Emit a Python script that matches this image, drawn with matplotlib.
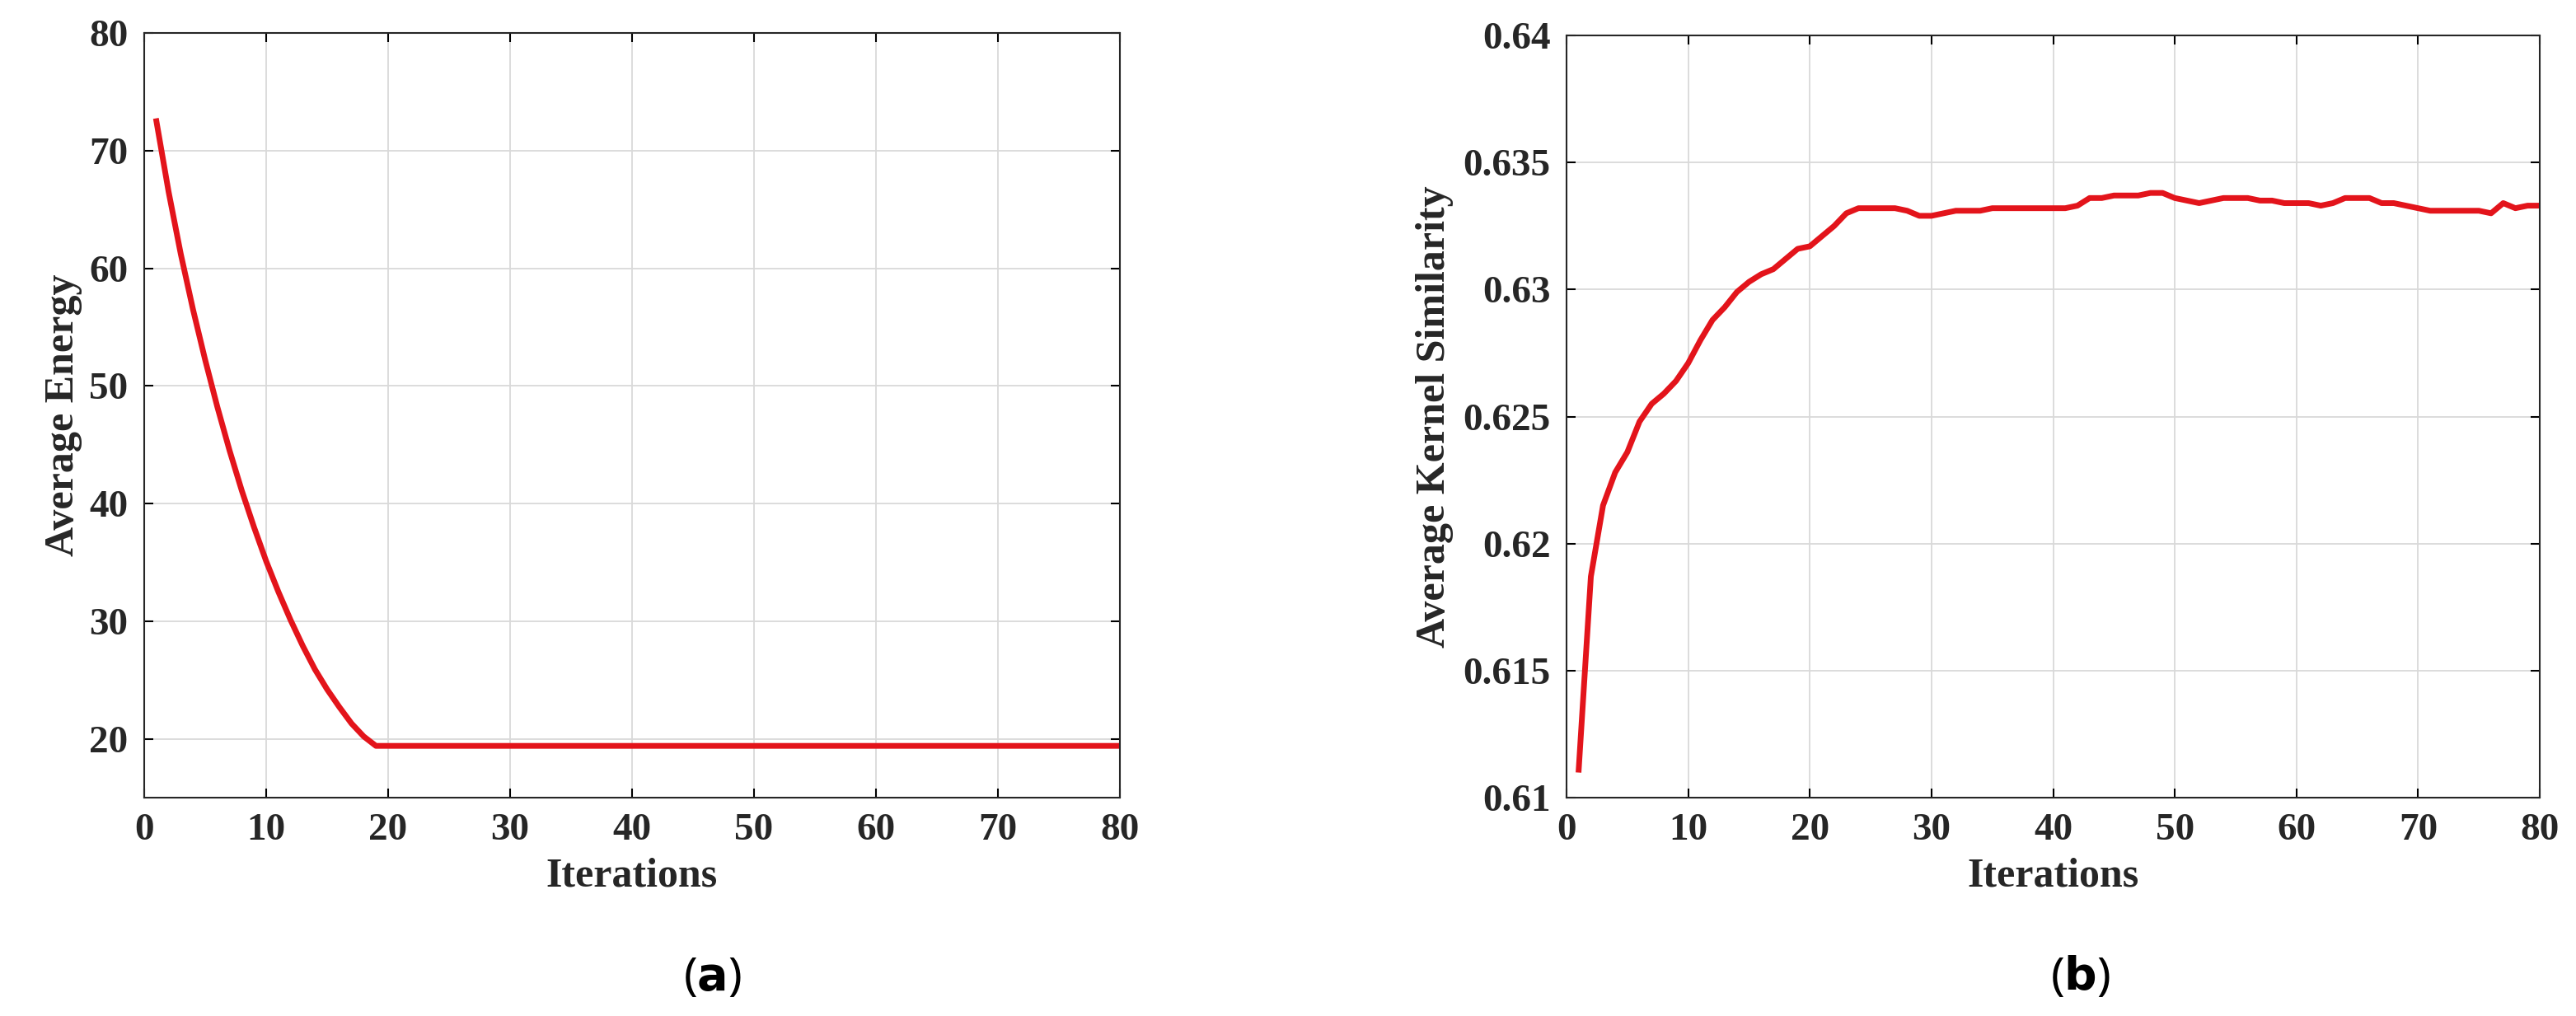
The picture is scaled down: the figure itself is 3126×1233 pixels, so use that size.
import numpy as np
import matplotlib
matplotlib.use('Agg')
import matplotlib.pyplot as plt

iters_a = np.arange(1, 81)
energy = [72.5, 66.5, 61.2, 56.5, 52.2, 48.2, 44.5, 41.1, 38.0, 35.1, 32.5, 30.1, 27.9, 25.9,
          24.2, 22.7, 21.3, 20.2, 19.4] + [19.4] * 61

iters_b = np.arange(1, 81)
similarity = [0.6111, 0.6187, 0.6215, 0.6228, 0.6236, 0.6248, 0.6255, 0.6259, 0.6264, 0.6271,
              0.6280, 0.6288, 0.6293, 0.6299, 0.6303, 0.6306, 0.6308, 0.6312, 0.6316, 0.6317,
              0.6321, 0.6325, 0.6330, 0.6332, 0.6332, 0.6332, 0.6332, 0.6331, 0.6329, 0.6329,
              0.6330, 0.6331, 0.6331, 0.6331, 0.6332, 0.6332, 0.6332, 0.6332, 0.6332, 0.6332,
              0.6332, 0.6333, 0.6336, 0.6336, 0.6337, 0.6337, 0.6337, 0.6338, 0.6338, 0.6336,
              0.6335, 0.6334, 0.6335, 0.6336, 0.6336, 0.6336, 0.6335, 0.6335, 0.6334, 0.6334,
              0.6334, 0.6333, 0.6334, 0.6336, 0.6336, 0.6336, 0.6334, 0.6334, 0.6333, 0.6332,
              0.6331, 0.6331, 0.6331, 0.6331, 0.6331, 0.6330, 0.6334, 0.6332, 0.6333, 0.6333]

xticks = [0, 10, 20, 30, 40, 50, 60, 70, 80]
yticks_a = [20, 30, 40, 50, 60, 70, 80]
yticks_b = [0.61, 0.615, 0.62, 0.625, 0.63, 0.635, 0.64]
yticklabels_b = ['0.61', '0.615', '0.62', '0.625', '0.63', '0.635', '0.64']

W, H = 3126, 1233
fig = plt.figure(figsize=(W / 100, H / 100), dpi=100)
red = '#e3141b'
tfont = dict(family='Liberation Serif', weight='bold', size=36, color='#262626')


def style(ax):
    ax.set_xlim(0, 80)
    ax.set_xticks(xticks)
    ax.grid(True, color='#d9d9d9', linewidth=1.3)
    ax.tick_params(direction='in', length=8, width=1.5, top=True, right=True, pad=14)
    for lab in ax.get_xticklabels() + ax.get_yticklabels():
        lab.set_fontproperties(matplotlib.font_manager.FontProperties(
            family='Liberation Serif', weight='bold', size=34))
        lab.set_color('#262626')
    for s in ax.spines.values():
        s.set_linewidth(1.5)
        s.set_color('#262626')
    ax.set_xlabel('Iterations', labelpad=8, **tfont)


ax1 = fig.add_axes([175 / W, 1 - 968 / H, (1359 - 175) / W, (968 - 40) / H])
ax1.plot(iters_a, energy, color=red, linewidth=5)
ax1.set_ylim(15, 80)
ax1.set_yticks(yticks_a)
style(ax1)
ax1.set_ylabel('Average Energy', labelpad=6, **tfont)

ax2 = fig.add_axes([1901 / W, 1 - 968 / H, (3082 - 1901) / W, (968 - 43) / H])
ax2.plot(iters_b, similarity, color=red, linewidth=5)
ax2.set_ylim(0.61, 0.64)
ax2.set_yticks(yticks_b)
ax2.set_yticklabels(yticklabels_b)
style(ax2)
ax2.set_ylabel('Average Kernel Similarity', labelpad=8, **tfont)

fig.text(864 / W, 1 - 1186 / H, r'($\mathbf{a}$)', ha='center', va='center', fontsize=40, family='Noto Sans')
fig.text(2524 / W, 1 - 1186 / H, r'($\mathbf{b}$)', ha='center', va='center', fontsize=40, family='Noto Sans')

fig.savefig('out.png', dpi=100, facecolor='white')
